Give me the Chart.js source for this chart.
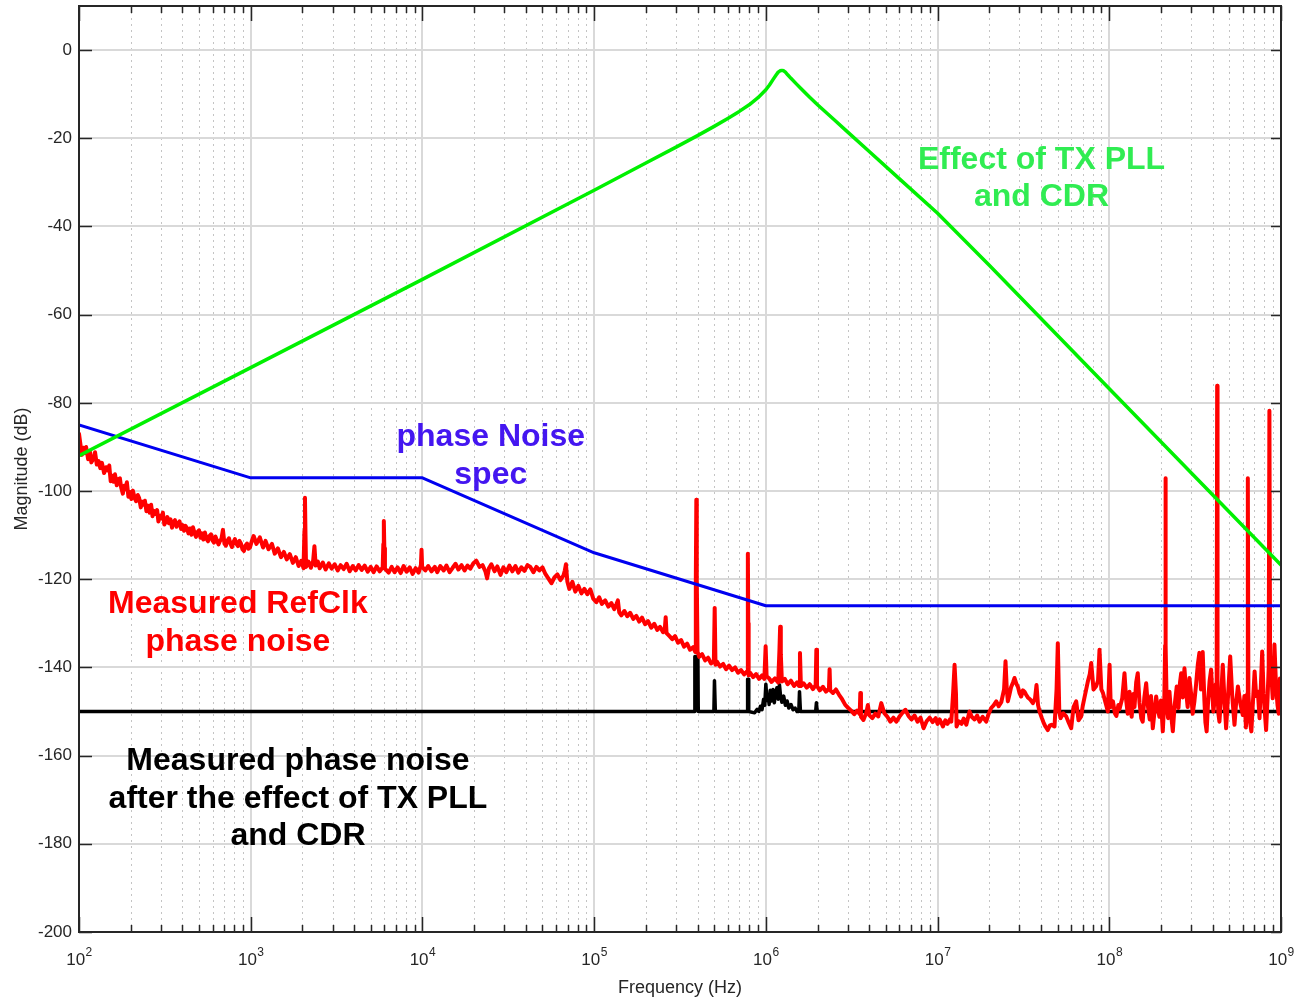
<!DOCTYPE html>
<html>
<head>
<meta charset="utf-8">
<title>Phase noise</title>
<script src="https://cdn.jsdelivr.net/npm/chart.js@4.4.0/dist/chart.umd.min.js"></script>
<style>
  html, body { margin: 0; padding: 0; background: #fff; }
  #plot { display: block; }
</style>
</head>
<body>
<canvas id="plot" width="1299" height="1005"></canvas>
<script>
// axis ticks
const yTicks = [-200, -180, -160, -140, -120, -100, -80, -60, -40, -20, 0];
const xDecades = [1e2, 1e3, 1e4, 1e5, 1e6, 1e7, 1e8, 1e9];
const minorSteps = [2, 3, 4, 5, 6, 7, 8, 9];

// combined TX PLL + CDR transfer [Hz, dB]
const pllCdrEffect = [
  [1e2, -92], [1e3, -72], [1e4, -52], [1e5, -31.8], [2e5, -25.6], [3e5, -22.0],
  [4e5, -19.4], [5e5, -17.3], [6e5, -15.5], [7e5, -13.9], [8e5, -12.4], [9e5, -10.8],
  [1e6, -9.0], [1.05e6, -7.9], [1.1e6, -6.7], [1.15e6, -5.6], [1.18e6, -5.0], [1.21e6, -4.7],
  [1.24e6, -4.6], [1.27e6, -4.7], [1.3e6, -5.0], [1.34e6, -5.6], [1.4e6, -6.4], [1.5e6, -7.6],
  [1.6e6, -8.7], [1.8e6, -10.7], [2e6, -12.4], [2.5e6, -15.8], [3e6, -18.6], [4e6, -23.0],
  [6e6, -29.2], [1e7, -37.0], [2e7, -48.8], [1e8, -76.8], [1e9, -116.8]
];

// phase noise mask
const specFreq = [1e2, 1e3, 1e4, 1e5, 1e6, 1e9];
const specLevel = [-85, -97, -97, -114, -126, -126];

// RefClk phase noise measurement [Hz, dBc/Hz]
const refclkNoise = [
  // 100 Hz .. 1 kHz
  [100, -87], [102, -89.5], [104, -91.8], [106, -90.2], [108, -91.4], [110, -90], [113, -92.8],
  [116, -91.2], [118, -93.5], [122, -92.5], [124, -91.2], [127, -94], [130, -93.2], [133, -94.8],
  [136, -93.6], [140, -95.9], [144, -94.6], [147, -95.3], [150, -94.2], [153, -97.8], [156, -96.5],
  [159, -97.9], [162, -96.2], [166, -98.7], [169, -97.4], [173, -97.1], [176, -99.2], [180, -100.6],
  [183, -98.8], [187, -99.6], [190, -98], [194, -101.3], [198, -100.2], [202, -101.8], [206, -99.9],
  [211, -101.6], [215, -102.3], [220, -100.9], [224, -101.6], [229, -103.7], [233, -102.4],
  [238, -103.1], [242, -102.2], [247, -104.6], [252, -103.3], [258, -104.9], [263, -103.1],
  [268, -105.7], [273, -104.5], [279, -105.2], [285, -104.3], [290, -106.9], [296, -105.6],
  [302, -106.2], [308, -104.9], [314, -107.6], [321, -106.8], [327, -105.9], [334, -107.3],
  [341, -106.4], [348, -108.3], [355, -107], [362, -106.6], [370, -108.1], [377, -107.4],
  [385, -106.9], [393, -108.6], [401, -107.7], [409, -109], [417, -107.9], [425, -108.4],
  [434, -109.6], [443, -108.5], [452, -109.9], [461, -108.2], [470, -109.4], [480, -110.4],
  [490, -109.3], [500, -108.9], [510, -110.6], [520, -109.6], [530, -111], [541, -109.4],
  [552, -110.8], [564, -111.4], [575, -110.2], [587, -109.8], [599, -111.2], [611, -111.7],
  [623, -110.3], [636, -111.2], [649, -112.1], [662, -111.3], [675, -110.9], [689, -108.8],
  [703, -111.9], [717, -112.4], [731, -111.3], [747, -110.7], [762, -111.9], [777, -112.7],
  [793, -111.6], [809, -110.9], [826, -112], [843, -112.5], [860, -111.3], [877, -111.9],
  [895, -113.2], [913, -113.6], [932, -112.4], [951, -111.9], [970, -113.1], [990, -112.8],
  // 1 kHz .. 10 kHz
  [1010, -111.6], [1040, -110.2], [1080, -112], [1130, -110.5], [1180, -112.8], [1220, -111.3],
  [1270, -113.2], [1330, -112], [1380, -114.2], [1440, -113], [1500, -115], [1560, -113.8],
  [1620, -115.5], [1690, -114.3], [1760, -116.3], [1830, -115], [1900, -117], [1970, -115.8],
  [2030, -117.5], [2055, -109], [2070, -101.5], [2085, -110], [2100, -117.2], [2170, -116],
  [2240, -117.4], [2310, -115.8], [2350, -112.5], [2390, -116.9], [2460, -116], [2520, -117.5],
  [2630, -116.2], [2730, -117.8], [2850, -116.4], [2960, -117.6], [3080, -116.6], [3210, -118],
  [3340, -116.8], [3480, -117.7], [3620, -116.5], [3770, -118.2], [3930, -117], [4090, -118],
  [4250, -116.8], [4430, -117.9], [4610, -116.9], [4800, -118.3], [5000, -117.2], [5200, -118.4],
  [5410, -117.1], [5640, -118.2], [5870, -117.3], [5920, -112], [5960, -106.8], [6000, -113],
  [6050, -117.6], [6360, -118.5], [6620, -117.2], [6890, -118.4], [7170, -117.3], [7470, -118.6],
  [7770, -117], [8090, -118.3], [8430, -117.3], [8770, -118.8], [9130, -117.5], [9500, -118.5],
  [9800, -116.8], [9880, -113.3], [9960, -117.2],
  // 10 kHz .. 100 kHz
  [10400, -118], [10800, -117], [11300, -118.2], [11800, -117.2], [12200, -118.4], [12700, -117],
  [13300, -118], [13800, -116.9], [14400, -118.4], [15000, -117.4], [15600, -116.5], [16200, -117.8],
  [16900, -116.8], [17600, -118], [18300, -116.9], [19000, -117.6], [19800, -116.4], [20600, -115.8],
  [21500, -117.2], [22400, -116.8], [23300, -118.3], [23800, -119.8], [24400, -117.5], [25200, -116.6],
  [26300, -118.2], [27300, -117.1], [28500, -119], [29600, -117.3], [30800, -118.4], [32100, -116.9],
  [33400, -118.2], [34800, -117], [36200, -118.5], [37700, -117.3], [39300, -118.1], [40900, -116.8],
  [42500, -117.2], [44300, -118.4], [46100, -117.2], [48000, -118], [50000, -117.3], [52000, -118.8],
  [54100, -119.8], [56400, -120.9], [58700, -119.6], [61100, -118.9], [63600, -120.2], [66200, -119.2],
  [67500, -118], [68500, -116.6], [69800, -120.5], [71700, -122.2], [74700, -120.6], [77700, -122.8],
  [80900, -121.5], [84300, -123.2], [87700, -122.2], [91300, -123.4], [95000, -122.3], [98800, -124.4],
  // 100 kHz .. 1 MHz
  [103000, -125.2], [107000, -124.1], [111000, -125.6], [116000, -124.8], [121000, -126.2],
  [126000, -125.4], [131000, -126.8], [135000, -125.6], [137500, -124.8], [140000, -127.5],
  [144000, -128.2], [150000, -127.2], [156000, -128.4], [162000, -127.6], [169000, -129],
  [176000, -128.3], [183000, -129.6], [190000, -128.7], [198000, -130.2], [206000, -129.5],
  [215000, -131], [224000, -130.1], [233000, -131.5], [242000, -130.8], [252000, -132],
  [258000, -131.2], [261000, -128.6], [264000, -132.2], [273000, -132.8], [285000, -133.6],
  [296000, -132.9], [308000, -134.4], [321000, -133.8], [334000, -135.3], [348000, -134.6],
  [362000, -136], [377000, -135.4], [388000, -136.5], [391000, -120], [393600, -102], [396000, -120],
  [400000, -136.4], [409000, -137.6], [425000, -137], [443000, -138.4], [461000, -137.8],
  [480000, -139.1], [498000, -138.6], [503500, -126.5], [509000, -139.4], [520000, -138.7],
  [541000, -139.8], [564000, -139.2], [587000, -140.4], [611000, -139.6], [636000, -140.6],
  [662000, -140], [689000, -141.2], [717000, -140.6], [747000, -141.6], [777000, -140.9],
  [784000, -130], [787000, -114.2], [790000, -130], [794000, -141.8], [809000, -141.2],
  [843000, -142.2], [877000, -141.5], [913000, -142.6], [951000, -141.8], [980000, -142.6],
  [997000, -135.2], [1010000, -142],
  // 1 MHz .. 10 MHz
  [1040000, -142.4], [1080000, -143.3], [1130000, -142.5], [1180000, -143.4], [1200000, -136],
  [1211000, -130.8], [1222000, -137], [1240000, -143.2], [1290000, -142.6], [1340000, -143.8],
  [1400000, -143], [1460000, -144.2], [1520000, -143.4], [1560000, -144.2], [1580000, -136.7],
  [1600000, -144.2], [1660000, -143.6], [1730000, -144.6], [1800000, -143.8], [1880000, -144.9],
  [1950000, -144], [1968000, -136], [1985000, -144.2], [2060000, -145.2], [2150000, -144.4],
  [2240000, -145.5], [2330000, -144.8], [2351000, -140.4], [2370000, -145.2], [2460000, -145.8],
  [2560000, -145], [2670000, -146.2], [2780000, -147.2], [2900000, -148.5], [3020000, -149.2],
  [3140000, -149.8], [3270000, -150.6], [3400000, -149.8], [3520000, -150.6], [3549000, -145.8],
  [3580000, -151.2], [3700000, -151.9], [3850000, -150.2], [3928000, -148.5], [4000000, -150.8],
  [4170000, -151.5], [4340000, -150.5], [4520000, -151.1], [4700000, -148.1], [4900000, -150.4],
  [5100000, -151.2], [5310000, -152.3], [5530000, -151.4], [5750000, -152.3], [5990000, -151.2],
  [6240000, -150.3], [6500000, -149.6], [6770000, -151], [7050000, -151.8], [7340000, -150.9],
  [7640000, -152.3], [7960000, -151.4], [8290000, -153.8], [8630000, -152.2], [8990000, -151.4],
  [9360000, -152.4], [9750000, -151.5],
  // 10 MHz .. 100 MHz
  [1e7, -152.8], [1.03e7, -151.8], [1.074e7, -153.4], [1.11e7, -152], [1.143e7, -152.8],
  [1.18e7, -151.8], [1.202e7, -152.3], [1.231e7, -146], [1.256e7, -139.4], [1.28e7, -146],
  [1.29e7, -153.4], [1.33e7, -152.2], [1.38e7, -152.8], [1.42e7, -151.6], [1.47e7, -153],
  [1.535e7, -150], [1.58e7, -151.2], [1.643e7, -151.8], [1.7e7, -150.9], [1.757e7, -152.3],
  [1.83e7, -151.2], [1.92e7, -152.3], [1.98e7, -150.6], [2.052e7, -149.2], [2.12e7, -148.6],
  [2.197e7, -147.7], [2.27e7, -148.8], [2.349e7, -147.9], [2.439e7, -145], [2.487e7, -138.6],
  [2.53e7, -145], [2.566e7, -147.7], [2.62e7, -146.2], [2.679e7, -144.5], [2.75e7, -143.4],
  [2.807e7, -142.4], [2.87e7, -143.6], [2.942e7, -144.5], [3.0e7, -145.8], [3.07e7, -146.6],
  [3.14e7, -145.2], [3.208e7, -145.5], [3.28e7, -146.2], [3.355e7, -146.8], [3.45e7, -147.2],
  [3.588e7, -148.1], [3.696e7, -147], [3.769e7, -144], [3.845e7, -148.5], [3.926e7, -150],
  [4.05e7, -151.5], [4.143e7, -152.5], [4.25e7, -153.4], [4.386e7, -154.2], [4.5e7, -153.2],
  [4.61e7, -153], [4.797e7, -153.4], [4.931e7, -145], [5.015e7, -134.5], [5.115e7, -150],
  [5.2e7, -151.5], [5.4e7, -150.4], [5.611e7, -151.1], [5.8e7, -152.5], [6.0e7, -153.8],
  [6.19e7, -149], [6.418e7, -147.7], [6.618e7, -152], [6.859e7, -151.1], [7.0e7, -148.8],
  [7.173e7, -146.8], [7.5e7, -143.2], [7.7e7, -141.5], [7.85e7, -139], [8.095e7, -145],
  [8.396e7, -144.2], [8.6e7, -143], [8.77e7, -136], [8.99e7, -145], [9.17e7, -145.7],
  [9.51e7, -148], [9.81e7, -150],
  // 100 MHz .. 1 GHz
  [1.004e8, -139.4], [1.02e8, -149], [1.05e8, -147.7], [1.08e8, -150.5], [1.10e8, -151],
  [1.13e8, -148.5], [1.146e8, -149.5], [1.19e8, -147], [1.226e8, -141.3], [1.255e8, -147.5],
  [1.28e8, -150.5], [1.311e8, -145.5], [1.35e8, -151.2], [1.38e8, -146], [1.402e8, -149],
  [1.435e8, -143.3], [1.465e8, -141.3], [1.50e8, -148], [1.535e8, -151.5], [1.566e8, -152.3],
  [1.60e8, -146.8], [1.64e8, -143.6], [1.675e8, -148.5], [1.72e8, -151.8], [1.75e8, -146.5],
  [1.792e8, -153.8], [1.835e8, -150], [1.875e8, -146.6], [1.92e8, -149.5], [1.959e8, -151.2],
  [2.00e8, -147.5], [2.049e8, -154.5], [2.09e8, -148], [2.115e8, -135], [2.124e8, -97.1],
  [2.133e8, -135], [2.16e8, -148.5], [2.20e8, -151.5], [2.241e8, -145.5], [2.29e8, -150.5],
  [2.344e8, -154.5], [2.40e8, -148.8], [2.471e8, -144.3], [2.53e8, -149.2], [2.58e8, -143.5],
  [2.622e8, -141.3], [2.68e8, -146.8], [2.74e8, -140.2], [2.80e8, -145.3], [2.86e8, -149],
  [2.929e8, -142.4], [3.00e8, -146.2], [3.06e8, -150.5], [3.131e8, -147.7], [3.20e8, -144],
  [3.28e8, -139.2], [3.348e8, -136.7], [3.42e8, -145], [3.50e8, -136.5], [3.58e8, -147.5],
  [3.63e8, -152.5], [3.69e8, -154.5], [3.76e8, -147.8], [3.84e8, -143], [3.918e8, -140.5],
  [3.98e8, -146], [4.04e8, -150], [4.097e8, -147.7], [4.17e8, -143.8], [4.22e8, -146],
  [4.248e8, -76.1], [4.27e8, -146], [4.32e8, -150.5], [4.38e8, -152.3], [4.48e8, -146.5],
  [4.58e8, -139.4], [4.68e8, -147], [4.79e8, -153.8], [4.92e8, -146.2], [5.06e8, -137.5],
  [5.2e8, -146.5], [5.36e8, -153], [5.48e8, -148], [5.61e8, -144.3], [5.8e8, -148.2],
  [5.99e8, -150.8], [6.12e8, -146.5], [6.25e8, -153.6], [6.36e8, -146], [6.41e8, -97.1],
  [6.46e8, -146], [6.58e8, -152], [6.72e8, -154.5], [6.86e8, -148], [7.02e8, -140.9],
  [7.17e8, -146.5], [7.33e8, -145.5], [7.5e8, -151.5], [7.64e8, -143.8], [7.77e8, -136.4],
  [7.92e8, -146], [8.05e8, -150.2], [8.19e8, -154.2], [8.35e8, -147], [8.48e8, -140],
  [8.56e8, -81.8], [8.64e8, -140], [8.76e8, -140.9], [8.95e8, -147], [9.16e8, -134.8],
  [9.35e8, -144], [9.54e8, -148.5], [9.7e8, -150.5], [9.85e8, -142.5], [1e9, -143.6]
];

// phase noise after TX PLL + CDR filtering [Hz, dBc/Hz]
const afterPllCdr = [
  [1e2, -150], [3.85e5, -150], [3.86e5, -137.5], [4.02e5, -137.5], [4.04e5, -150],
  [4.98e5, -150], [5.02e5, -143], [5.08e5, -150], [7.8e5, -150], [7.83e5, -142.7],
  [7.92e5, -142.7], [7.95e5, -150], [8.6e5, -150.3], [8.9e5, -149.5], [9.1e5, -150],
  [9.3e5, -148.8], [9.5e5, -149.6], [9.7e5, -147.2], [9.85e5, -148.6], [1.0e6, -143.8],
  [1.015e6, -147.5], [1.03e6, -146.2], [1.045e6, -148.4], [1.06e6, -145.2], [1.08e6, -147.6],
  [1.1e6, -145], [1.12e6, -148], [1.14e6, -145.8], [1.16e6, -144.6], [1.18e6, -147.2],
  [1.2e6, -143.9], [1.22e6, -146.8], [1.24e6, -147.9], [1.27e6, -146.5], [1.3e6, -148.6],
  [1.33e6, -147.6], [1.36e6, -149.2], [1.4e6, -148.4], [1.44e6, -149.6], [1.48e6, -149.2],
  [1.52e6, -150], [1.555e6, -150], [1.57e6, -145.5], [1.59e6, -150], [1.95e6, -150],
  [1.97e6, -148], [1.99e6, -150], [1e9, -150]
];

const notes = [
  { lines: ['Effect of TX PLL', 'and CDR'], color: '#30ec52', f: 4.03e7, db: [-27.0, -35.4] },
  { lines: ['phase Noise', 'spec'], color: '#4416f0', f: 2.5e4, db: [-89.8, -98.4] },
  { lines: ['Measured RefClk', 'phase noise'], color: '#ff0000', f: 842, db: [-127.7, -136.2] },
  { lines: ['Measured phase noise', 'after the effect of TX PLL', 'and CDR'], color: '#000000', f: 1884, db: [-163.2, -171.8, -180.2] }
];

const FONT = "'Liberation Sans', Arial, Helvetica, sans-serif";
const AXIS_COLOR = '#262626';

const toXY = pts => pts.map(([x, y]) => ({ x, y }));

// grid, box, tick marks, decade labels and text notes
const matlabAxes = {
  id: 'matlabAxes',
  beforeDatasetsDraw(chart) {
    const { ctx, chartArea: a, scales: { x, y } } = chart;
    ctx.save();
    ctx.lineWidth = 1;
    ctx.strokeStyle = '#c4c4c4';
    ctx.setLineDash([2, 4]);
    ctx.beginPath();
    xDecades.slice(0, -1).forEach(d => minorSteps.forEach(m => {
      const px = Math.round(x.getPixelForValue(d * m)) + 0.5;
      ctx.moveTo(px, a.top);
      ctx.lineTo(px, a.bottom);
    }));
    ctx.stroke();

    ctx.setLineDash([]);
    ctx.strokeStyle = '#d9d9d9';
    ctx.lineWidth = 2;
    ctx.beginPath();
    xDecades.forEach(d => {
      const px = Math.round(x.getPixelForValue(d));
      ctx.moveTo(px, a.top);
      ctx.lineTo(px, a.bottom);
    });
    yTicks.forEach(v => {
      const py = Math.round(y.getPixelForValue(v));
      ctx.moveTo(a.left, py);
      ctx.lineTo(a.right, py);
    });
    ctx.stroke();
    ctx.restore();
  },
  afterDraw(chart) {
    const { ctx, chartArea: a, scales: { x, y } } = chart;
    ctx.save();
    ctx.strokeStyle = AXIS_COLOR;
    ctx.lineWidth = 1.5;
    ctx.beginPath();
    xDecades.slice(0, -1).forEach(d => minorSteps.forEach(m => {
      const px = Math.round(x.getPixelForValue(d * m)) + 0.5;
      ctx.moveTo(px, a.bottom); ctx.lineTo(px, a.bottom - 7);
      ctx.moveTo(px, a.top); ctx.lineTo(px, a.top + 7);
    }));
    xDecades.forEach(d => {
      const px = Math.round(x.getPixelForValue(d)) + 0.5;
      ctx.moveTo(px, a.bottom); ctx.lineTo(px, a.bottom - 15);
      ctx.moveTo(px, a.top); ctx.lineTo(px, a.top + 15);
    });
    yTicks.forEach(v => {
      const py = Math.round(y.getPixelForValue(v)) + 0.5;
      ctx.moveTo(a.left, py); ctx.lineTo(a.left + 13, py);
      ctx.moveTo(a.right, py); ctx.lineTo(a.right - 10, py);
    });
    ctx.stroke();

    ctx.lineWidth = 2;
    ctx.strokeRect(a.left, a.top, a.right - a.left, a.bottom - a.top);

    // decade labels: 10 with a raised exponent
    ctx.fillStyle = AXIS_COLOR;
    ctx.textBaseline = 'alphabetic';
    ctx.textAlign = 'left';
    xDecades.forEach(d => {
      const px = x.getPixelForValue(d);
      const exp = String(Math.round(Math.log10(d)));
      ctx.font = '17px ' + FONT;
      const wBase = ctx.measureText('10').width;
      ctx.font = '12px ' + FONT;
      const wExp = ctx.measureText(exp).width;
      const left = px - (wBase + wExp) / 2;
      ctx.font = '17px ' + FONT;
      ctx.fillText('10', left, a.bottom + 33);
      ctx.font = '12px ' + FONT;
      ctx.fillText(exp, left + wBase + 0.5, a.bottom + 24);
    });

    ctx.font = 'bold 32px ' + FONT;
    ctx.textAlign = 'center';
    notes.forEach(n => {
      ctx.fillStyle = n.color;
      const px = x.getPixelForValue(n.f);
      n.lines.forEach((t, i) => ctx.fillText(t, px, y.getPixelForValue(n.db[i])));
    });
    ctx.restore();
  }
};

const lineStyle = { pointRadius: 0, tension: 0, borderJoinStyle: 'round', borderCapStyle: 'round', fill: false };

new Chart(document.getElementById('plot'), {
  type: 'line',
  data: {
    datasets: [
      { ...lineStyle, label: 'Effect of TX PLL and CDR', data: toXY(pllCdrEffect), borderColor: '#00f000', borderWidth: 3.5, order: 0 },
      { ...lineStyle, label: 'phase Noise spec', data: specFreq.map((f, i) => ({ x: f, y: specLevel[i] })), borderColor: '#0000f0', borderWidth: 3, order: 1 },
      { ...lineStyle, label: 'Measured RefClk phase noise', data: toXY(refclkNoise), borderColor: '#ff0000', borderWidth: 4, order: 2 },
      { ...lineStyle, label: 'After TX PLL and CDR', data: toXY(afterPllCdr), borderColor: '#000000', borderWidth: 3.5, order: 3 }
    ]
  },
  options: {
    responsive: false,
    animation: false,
    events: [],
    layout: { padding: { top: 6, right: 18, left: 0, bottom: 0 } },
    plugins: { legend: { display: false }, tooltip: { enabled: false } },
    scales: {
      x: {
        type: 'logarithmic',
        min: 1e2,
        max: 1e9,
        grid: { display: false, drawTicks: false },
        border: { display: false },
        ticks: { display: false },
        afterBuildTicks: s => { s.ticks = xDecades.map(v => ({ value: v })); },
        afterFit: s => { s.height = 73; s.paddingLeft = 0; s.paddingRight = 0; },
        title: {
          display: true,
          text: 'Frequency (Hz)',
          color: AXIS_COLOR,
          font: { family: FONT, size: 18 },
          padding: { top: 0, bottom: 6 }
        }
      },
      y: {
        type: 'linear',
        min: -200,
        max: 10,
        grid: { display: false, drawTicks: false },
        border: { display: false },
        afterBuildTicks: s => { s.ticks = yTicks.map(v => ({ value: v })); },
        afterFit: s => { s.width = 79; s.paddingTop = 0; s.paddingBottom = 0; },
        ticks: {
          padding: 7,
          color: AXIS_COLOR,
          font: { family: FONT, size: 17 },
          callback: v => String(v)
        },
        title: {
          display: true,
          text: 'Magnitude (dB)',
          color: AXIS_COLOR,
          font: { family: FONT, size: 18 },
          padding: { top: 11, bottom: 0 }
        }
      }
    }
  },
  plugins: [matlabAxes]
});
</script>
</body>
</html>
